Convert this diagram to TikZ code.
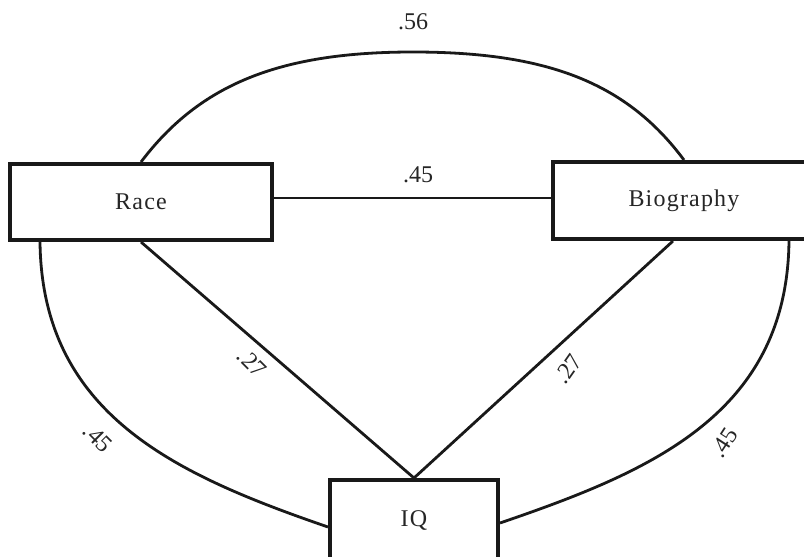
\documentclass[tikz,border=0pt]{standalone}
\usepackage{fontspec}
\setmainfont{Liberation Serif}
\newfontfamily\spacedserif[LetterSpace=5]{Liberation Serif}
\begin{document}
\begin{tikzpicture}[x=1pt,y=-1pt,
  varbox/.style={draw=black!90,line width=4pt,rectangle,inner sep=0pt,font=\spacedserif\fontsize{24}{28}\selectfont,text=black!85},
  link/.style={draw=black!90,line width=2.8pt},
  thinlink/.style={draw=black!90,line width=2pt},
  coef/.style={font=\fontsize{24}{28}\selectfont,text=black!85,inner sep=0pt}]
\path[use as bounding box] (0,0) rectangle (804,557);
\fill[white] (0,0) rectangle (804,557);
\clip (0,0) rectangle (804,557);
\node[varbox,minimum width=262pt,minimum height=76pt] (race) at (141,202) {Race};
\node[varbox,minimum width=262pt,minimum height=77pt] (bio) at (684,200.5) {Biography};
\node[varbox,minimum width=168pt,minimum height=80pt] (iq) at (414,520) {IQ};
\coordinate (top) at (413,52);
% horizontal
\draw[thinlink] ([yshift=4pt]race.east) -- ([yshift=2.5pt]bio.west);
% diagonals
\draw[link] (race.south) -- (iq.north);
\draw[link] ([xshift=-11pt]bio.south) -- (iq.north);
% top arc
\draw[link] (race.north) .. controls (200,84) and (280,52) .. (top)
  .. controls (546,52) and (626,82) .. (bio.north);
% bottom arcs
\draw[link] ([xshift=32pt]race.south west) .. controls (42,415) and (177,475) .. ([yshift=-7pt]iq.west);
\draw[link] ([xshift=-28pt]bio.south east) .. controls (787,415) and (649,472) .. ([yshift=-3pt]iq.east);
% labels
\node[coef] (l56) at (413,22) {.56};
\node[coef] (l45a) at (418,175) {.45};
\node[coef,rotate=-45] (l27a) at (252,363) {.27};
\node[coef,rotate=-45] (l45b) at (98,438) {.45};
\node[coef,rotate=55] (l27b) at (568,369) {.27};
\node[coef,rotate=57] (l45c) at (724,443) {.45};
\end{tikzpicture}
\end{document}
